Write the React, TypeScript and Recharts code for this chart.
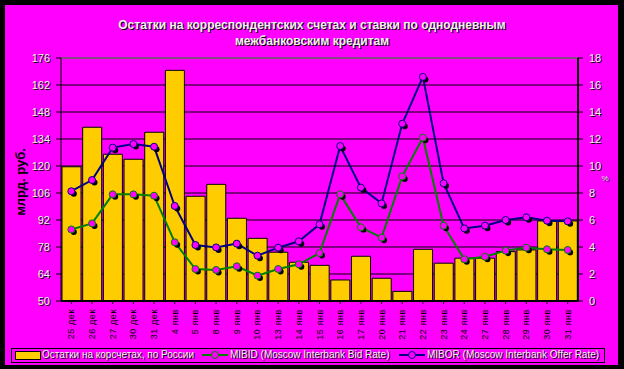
import React from "react";
import {
  ComposedChart,
  Bar,
  Line,
  XAxis,
  YAxis,
  CartesianGrid,
  ReferenceLine,
} from "recharts";

const dates = [
  "25 дек", "26 дек", "27 дек", "30 дек", "31 дек",
  "4 янв", "5 янв", "8 янв", "9 янв", "10 янв",
  "13 янв", "14 янв", "15 янв", "16 янв", "17 янв",
  "20 янв", "21 янв", "22 янв", "23 янв", "24 янв",
  "27 янв", "28 янв", "29 янв", "30 янв", "31 янв",
];

// остатки, млрд. руб.
const balances = [
  119.6, 140.1, 126.1, 123.5, 137.5, 169.6, 104.3, 110.5, 92.9, 82.5,
  75.3, 70.1, 68.5, 60.9, 73.2, 61.8, 55.0, 76.8, 69.6, 72.2,
  72.2, 75.6, 76.5, 91.5, 91.5,
];

// ставки, %
const mibid = [
  5.3, 5.75, 7.9, 7.9, 7.8, 4.35, 2.37, 2.3, 2.57, 1.88,
  2.37, 2.72, 3.55, 7.9, 5.46, 4.69, 9.23, 12.1, 5.58, 3.09,
  3.28, 3.73, 3.95, 3.83, 3.78,
];

const mibor = [
  8.13, 8.96, 11.36, 11.63, 11.43, 7.04, 4.15, 3.97, 4.25, 3.36,
  3.95, 4.42, 5.68, 11.48, 8.4, 7.23, 13.13, 16.6, 8.72, 5.38,
  5.58, 6.0, 6.2, 5.95, 5.9,
];

const leftTicks = [50, 64, 78, 92, 106, 120, 134, 148, 162, 176];
const rightTicks = [0, 2, 4, 6, 8, 10, 12, 14, 16, 18];

const data = dates.map((d, i) => ({
  date: d,
  balance: balances[i],
  mibid: mibid[i],
  mibor: mibor[i],
}));

const FONT = "Liberation Sans, Arial, sans-serif";

// белый текст с тенью, как в оригинале
const ShadowText = ({ x, y, anchor, size, bold, children }: any) => (
  <g>
    <text x={x + 1} y={y + 1} textAnchor={anchor} fontSize={size} fontWeight={bold ? "bold" : "normal"} fontFamily={FONT} fill="#000">
      {children}
    </text>
    <text x={x} y={y} textAnchor={anchor} fontSize={size} fontWeight={bold ? "bold" : "normal"} fontFamily={FONT} fill="#f0f0f0">
      {children}
    </text>
  </g>
);

const LeftTick = (props: any) => {
  const { x, y, payload } = props;
  return (
    <ShadowText x={x - 4} y={y + 4} anchor="end" size={11}>
      {payload.value}
    </ShadowText>
  );
};

const RightTick = (props: any) => {
  const { x, y, payload } = props;
  return (
    <ShadowText x={x + 4} y={y + 4} anchor="start" size={11}>
      {payload.value}
    </ShadowText>
  );
};

const DateTick = (props: any) => {
  const { x, y, payload } = props;
  return (
    <text
      x={0}
      y={0}
      transform={`translate(${x + 3},${y + 3}) rotate(-90)`}
      textAnchor="end"
      fontSize={9}
      letterSpacing={0.6}
      fontFamily={FONT}
      fill="#000"
    >
      {payload.value}
    </text>
  );
};

const makeDot = (color: string) => (props: any) => {
  const { cx, cy, index } = props;
  if (cx == null || cy == null) return <g key={index} />;
  return (
    <g key={index}>
      <circle cx={cx + 2.5} cy={cy + 2.5} r={3} fill="#000" />
      <circle cx={cx} cy={cy} r={3.5} fill="#ff00ff" stroke={color} strokeWidth={1} />
    </g>
  );
};

const legendText: React.CSSProperties = {
  position: "absolute",
  top: 349,
  fontFamily: FONT,
  fontSize: 10,
  color: "#f0f0f0",
  textShadow: "1px 1px 0 #000",
  whiteSpace: "nowrap",
  lineHeight: "11px",
};

export default function App() {
  return (
    <div style={{ position: "absolute", left: 0, top: 0, width: 624, height: 369, background: "#000" }}>
      <div style={{ position: "absolute", left: 5, top: 5, width: 613, height: 360, background: "#ff00ff" }} />
      <div style={{ position: "absolute", left: 0, top: 0 }}>
        <ComposedChart
          width={624}
          height={369}
          data={data}
          margin={{ top: 58, right: 26, left: 41, bottom: 28 }}
          barCategoryGap={1}
        >
          <CartesianGrid horizontal vertical={false} stroke="#000" strokeWidth={1} yAxisId="left" />
          <XAxis
            dataKey="date"
            height={40}
            interval={0}
            tick={<DateTick />}
            axisLine={{ stroke: "#000", strokeWidth: 2 }}
            tickLine={{ stroke: "#000" }}
            tickSize={3}
          />
          <YAxis
            yAxisId="left"
            width={20}
            domain={[50, 176]}
            ticks={leftTicks}
            interval={0}
            tick={<LeftTick />}
            axisLine={{ stroke: "#000" }}
            tickLine={{ stroke: "#000" }}
            tickSize={5}
          />
          <YAxis
            yAxisId="right"
            orientation="right"
            width={20}
            domain={[0, 18]}
            ticks={rightTicks}
            interval={0}
            tick={<RightTick />}
            axisLine={{ stroke: "#000", strokeWidth: 2 }}
            tickLine={{ stroke: "#000" }}
            tickSize={5}
          />
          <ReferenceLine yAxisId="left" y={176} stroke="#909090" strokeWidth={1} />
          <Bar
            yAxisId="left"
            dataKey="balance"
            fill="#ffcc00"
            stroke="#000"
            strokeWidth={1}
            isAnimationActive={false}
          />
          <Line
            yAxisId="right"
            dataKey="mibid"
            type="linear"
            stroke="#008000"
            strokeWidth={2}
            dot={makeDot("#008000")}
            isAnimationActive={false}
          />
          <Line
            yAxisId="right"
            dataKey="mibor"
            type="linear"
            stroke="#000080"
            strokeWidth={2}
            dot={makeDot("#000080")}
            isAnimationActive={false}
          />
          <ShadowText x={312} y={29} anchor="middle" size={12} bold>
            Остатки на корреспондентских счетах и ставки по однодневным
          </ShadowText>
          <ShadowText x={312} y={45} anchor="middle" size={12} bold>
            межбанковским кредитам
          </ShadowText>
          <text
            x={0}
            y={0}
            transform="translate(25,182) rotate(-90)"
            textAnchor="middle"
            fontSize={13}
            fontWeight="bold"
            fontFamily={FONT}
            fill="#000"
          >
            млрд. руб.
          </text>
          <ShadowText x={605} y={181} anchor="middle" size={8}>
            %
          </ShadowText>
        </ComposedChart>
      </div>
      <div style={{ position: "absolute", left: 11, top: 348, width: 592, height: 13, border: "1px solid #000" }} />
      <div style={{ position: "absolute", left: 15, top: 351, width: 24, height: 7, background: "#ffcc00", border: "1px solid #000" }} />
      <div style={{ ...legendText, left: 42 }}>Остатки на корсчетах, по России</div>
      <div style={{ position: "absolute", left: 202, top: 354, width: 26, height: 2, background: "#008000" }} />
      <div style={{ position: "absolute", left: 211, top: 351, width: 6, height: 6, borderRadius: 4, background: "#ff00ff", border: "1px solid #008000" }} />
      <div style={{ ...legendText, left: 230 }}>MIBID (Moscow Interbank Bid Rate)</div>
      <div style={{ position: "absolute", left: 399, top: 354, width: 26, height: 2, background: "#000080" }} />
      <div style={{ position: "absolute", left: 408, top: 351, width: 6, height: 6, borderRadius: 4, background: "#ff00ff", border: "1px solid #000080" }} />
      <div style={{ ...legendText, left: 427 }}>MIBOR (Moscow Interbank Offer Rate)</div>
    </div>
  );
}
